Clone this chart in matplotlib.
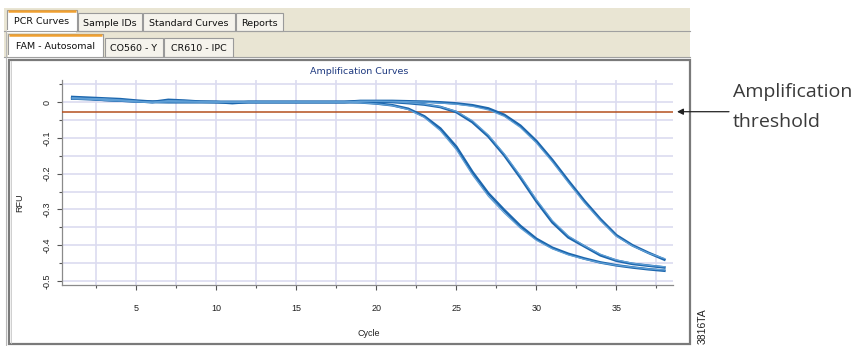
import matplotlib
matplotlib.use("Agg")
import matplotlib.pyplot as plt
from matplotlib.patches import Rectangle
from matplotlib.ticker import MultipleLocator

# ── Data ─────────────────────────────────────────────────
cycles = list(range(1, 39))

early_a = [0.014, 0.012, 0.010, 0.008, 0.004, 0.001, 0.000, 0.000, 0.000, 0.000,
           -0.003, 0.000, 0.000, 0.000, 0.000, 0.000, 0.000, 0.000, -0.001, -0.004,
           -0.009, -0.019, -0.040, -0.074, -0.125, -0.195, -0.255, -0.302, -0.346, -0.382,
           -0.407, -0.424, -0.437, -0.448, -0.456, -0.462, -0.467, -0.471]
early_b = [0.012, 0.010, 0.009, 0.006, 0.003, -0.002, 0.002, 0.001, 0.000, 0.000,
           -0.001, 0.000, 0.000, 0.000, 0.000, 0.000, 0.000, 0.000, -0.002, -0.005,
           -0.010, -0.021, -0.043, -0.080, -0.133, -0.203, -0.263, -0.310, -0.352, -0.386,
           -0.410, -0.427, -0.439, -0.449, -0.456, -0.461, -0.466, -0.469]
mid_a = [0.010, 0.008, 0.006, 0.004, 0.002, 0.000, 0.006, 0.004, 0.001, 0.000,
         0.000, 0.000, 0.000, 0.000, 0.000, 0.000, 0.000, 0.000, 0.001, 0.001,
         0.000, -0.003, -0.007, -0.014, -0.028, -0.056, -0.096, -0.149, -0.211, -0.277,
         -0.336, -0.378, -0.403, -0.428, -0.443, -0.452, -0.457, -0.462]
mid_b = [0.011, 0.009, 0.007, 0.005, 0.001, -0.001, 0.004, 0.003, 0.001, 0.000,
         0.000, 0.000, 0.000, 0.000, 0.000, 0.000, 0.000, 0.000, 0.002, 0.002,
         0.001, -0.002, -0.006, -0.013, -0.026, -0.052, -0.092, -0.145, -0.206, -0.272,
         -0.331, -0.374, -0.401, -0.425, -0.441, -0.450, -0.456, -0.460]
late_a = [0.010, 0.010, 0.006, 0.004, 0.002, 0.000, 0.000, 0.000, 0.000, 0.000,
          0.000, 0.000, 0.000, 0.000, 0.000, 0.000, 0.000, 0.000, 0.003, 0.003,
          0.003, 0.002, 0.001, -0.001, -0.004, -0.009, -0.018, -0.036, -0.066, -0.109,
          -0.162, -0.220, -0.276, -0.327, -0.372, -0.400, -0.421, -0.440]
late_b = [0.009, 0.008, 0.005, 0.003, 0.001, 0.000, 0.000, 0.000, 0.000, 0.000,
          0.000, 0.000, 0.000, 0.000, 0.000, 0.000, 0.000, 0.000, 0.002, 0.002,
          0.002, 0.001, 0.000, -0.003, -0.006, -0.012, -0.022, -0.040, -0.071, -0.114,
          -0.167, -0.225, -0.281, -0.331, -0.375, -0.402, -0.422, -0.437]

threshold = -0.027

row1_tabs = ["PCR Curves", "Sample IDs", "Standard Curves", "Reports"]
row2_tabs = ["FAM - Autosomal", "CO560 - Y", "CR610 - IPC"]

# ── Figure ───────────────────────────────────────────────
W, H = 857, 346
fig = plt.figure(figsize=(W / 100, H / 100), dpi=100)

# background layer in pixel coordinates (tabs, panel frame, annotation)
bg = fig.add_axes([0, 0, 1, 1])
bg.set_xlim(0, W)
bg.set_ylim(H, 0)
bg.axis("off")

BEIGE = "#e9e5d3"
bg.add_patch(Rectangle((4, 8), 686, 49, facecolor=BEIGE, edgecolor="none"))
bg.plot([4, 690], [31, 31], color="#a0a0a0", lw=0.8)
bg.plot([4, 690], [56.5, 56.5], color="#a0a0a0", lw=0.8)


def draw_tab(x0, x1, y0, y1, label, selected):
    if selected:
        bg.add_patch(Rectangle((x0, y0), x1 - x0, y1 - y0, facecolor="white",
                               edgecolor="#9a9a9a", lw=0.8))
        bg.plot([x0 + 1, x1 - 1], [y0 + 0.8, y0 + 0.8], color="#f0a030", lw=1.8,
                solid_capstyle="butt")
        bg.add_patch(Rectangle((x0 + 0.5, y1 - 1.5), x1 - x0 - 1, 3, facecolor="white",
                               edgecolor="none"))
    else:
        bg.add_patch(Rectangle((x0, y0), x1 - x0, y1 - y0, facecolor="#f5f3ec",
                               edgecolor="#9a9a9a", lw=0.8))
    bg.text((x0 + x1) / 2, (y0 + y1) / 2 + 1, label, ha="center", va="center",
            fontsize=6.8, color="#111111", family="DejaVu Sans")


for (x0, x1), lab in zip([(7, 77), (78, 142), (143, 235), (236, 283)], row1_tabs):
    sel = lab == "PCR Curves"
    draw_tab(x0, x1, 10 if sel else 13, 31, lab, sel)

for (x0, x1), lab in zip([(8, 103), (105, 163), (164, 233)], row2_tabs):
    sel = lab == "FAM - Autosomal"
    draw_tab(x0, x1, 34 if sel else 38, 56.5, lab, sel)

# panel frame
bg.add_patch(Rectangle((9.5, 60), 680.5, 283.5, facecolor="white",
                       edgecolor="#7a7a7a", lw=1.6))
bg.plot([6.5, 6.5], [31, 346], color="#b8b8b8", lw=0.8)
bg.plot([11.5, 11.5], [61, 343], color="#c8c8c8", lw=0.6)

bg.text(359, 71, "Amplification Curves", ha="center", va="center",
        fontsize=6.8, color="#1f3a80", family="DejaVu Sans")
bg.text(20, 203, "RFU", rotation=90, ha="center", va="center",
        fontsize=6.5, color="#222222", family="Liberation Sans")
bg.text(369, 333, "Cycle", ha="center", va="center",
        fontsize=6.5, color="#222222", family="Liberation Sans")

# annotation outside the panel
bg.annotate("", xy=(677, 111.7), xytext=(729, 111.7),
            arrowprops=dict(arrowstyle="-|>", color="#222222", lw=0.9,
                            mutation_scale=9, shrinkA=0, shrinkB=0))
bg.text(733, 92, "Amplification", ha="left", va="center", fontsize=14,
        color="#3a3a3a", family="Open Sans")
bg.text(733, 122, "threshold", ha="left", va="center", fontsize=14,
        color="#3a3a3a", family="Open Sans")
bg.text(703, 344, "3816TA", rotation=90, ha="center", va="bottom", fontsize=7.5,
        color="#222222", family="Liberation Sans")

# ── Plot area ────────────────────────────────────────────
left, right, top, bottom = 61.7, 673, 80, 285
ax = fig.add_axes([left / W, (H - bottom) / H, (right - left) / W, (bottom - top) / H])
ax.set_facecolor("none")

ax.xaxis.set_major_locator(MultipleLocator(5))
ax.xaxis.set_minor_locator(MultipleLocator(2.5))
ax.yaxis.set_major_locator(MultipleLocator(0.1))
ax.yaxis.set_minor_locator(MultipleLocator(0.05))
ax.grid(True, which="both", color="#dcdcf0", lw=1.2)
ax.set_axisbelow(True)

ax.axhline(threshold, color="#b4501e", lw=1.1, zorder=3)

DARK = "#1d67ae"
LIGHT = "#5f9fd6"
for series in (early_a, mid_a, late_a):
    ax.plot(cycles, series, color=DARK, lw=1.9, zorder=4)
for series in (early_b, mid_b, late_b):
    ax.plot(cycles, series, color=LIGHT, lw=0.9, zorder=5)

ax.set_xlim(0.34, 38.54)
ax.set_ylim(-0.511, 0.0615)

for side in ("top", "right"):
    ax.spines[side].set_visible(False)
for side in ("left", "bottom"):
    ax.spines[side].set_color("#8a8a8a")
    ax.spines[side].set_linewidth(0.9)

ax.tick_params(which="major", length=3.5, width=0.8, color="#555555",
               labelsize=6.5, labelcolor="#222222")
ax.tick_params(which="minor", length=2, width=0.8, color="#555555")
ax.tick_params(axis="x", which="major", pad=10)
ax.tick_params(axis="y", which="major", pad=4, labelrotation=90)
ax.set_yticks([0, -0.1, -0.2, -0.3, -0.4, -0.5])
ax.set_yticklabels(["0", "-0.1", "-0.2", "-0.3", "-0.4", "-0.5"])
for t in ax.get_yticklabels():
    t.set_va("center")
    t.set_family("Liberation Sans")
for t in ax.get_xticklabels():
    t.set_family("Liberation Sans")

fig.savefig("out.png", dpi=100)
